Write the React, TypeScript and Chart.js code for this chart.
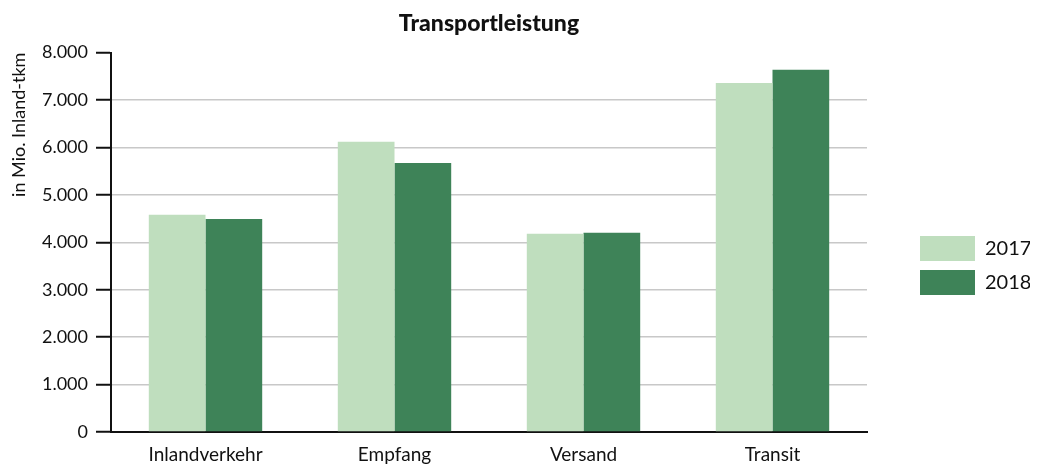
import React, { useEffect, useRef } from 'react';
import { Chart, registerables } from 'chart.js';

Chart.register(...registerables);

const categories = ['Inlandverkehr', 'Empfang', 'Versand', 'Transit'];
const seriesLabels = ['2017', '2018'];
const values2017 = [4580, 6120, 4180, 7360];
const values2018 = [4490, 5670, 4200, 7640];
const yTickLabels = ['0', '1.000', '2.000', '3.000', '4.000', '5.000', '6.000', '7.000', '8.000'];
const chartTitle = 'Transportleistung';
const yAxisTitle = 'in Mio. Inland-tkm';

const colorLight = '#bfdebe';
const colorDark = '#3e8358';
const FONT = 'Lato';

const legendShift = {
  id: 'legendShift',
  afterLayout(chart: any) {
    const l = chart.legend;
    if (l) {
      const dx = 912 - (l.left + 9);
      l.left += dx;
      l.right += dx;
    }
  },
};

export default function App() {
  const ref = useRef<HTMLCanvasElement | null>(null);

  useEffect(() => {
    document.documentElement.style.overflow = 'hidden';
    const canvas = ref.current;
    if (!canvas) return;
    const chart = new Chart(canvas, {
      type: 'bar',
      data: {
        labels: categories,
        datasets: [
          { label: seriesLabels[0], data: values2017, backgroundColor: colorLight, borderWidth: 0 },
          { label: seriesLabels[1], data: values2018, backgroundColor: colorDark, borderWidth: 0 },
        ],
      },
      options: {
        responsive: false,
        animation: false,
        datasets: { bar: { categoryPercentage: 0.6, barPercentage: 1.0 } },
        layout: { padding: { left: 0, right: 46, top: 0, bottom: 0 } },
        plugins: {
          tooltip: { enabled: false },
          title: {
            display: true,
            text: chartTitle,
            fullSize: false,
            color: '#111',
            font: { family: FONT, size: 23, weight: '900' },
            padding: { top: 2, bottom: 15 },
          },
          legend: {
            position: 'right',
            align: 'center',
            maxWidth: 125,
            labels: {
              boxWidth: 55,
              boxHeight: 25,
              padding: 9,
              color: '#111',
              font: { family: FONT, size: 20 },
            },
          },
        },
        scales: {
          x: {
            grid: { display: false, drawTicks: false },
            border: { display: true, color: '#111', width: 2 },
            ticks: { padding: 11, color: '#111', font: { family: FONT, size: 19 } },
            afterFit: (s: any) => { s.height = 91; },
          },
          y: {
            min: 0,
            max: 8000,
            ticks: {
              stepSize: 1000,
              padding: 8,
              color: '#111',
              font: { family: FONT, size: 18 },
              callback: (_v: any, i: number) => yTickLabels[i],
            },
            grid: {
              color: (ctx: any) => (ctx.tick && ctx.tick.value === 8000 ? 'rgba(0,0,0,0)' : '#c8c8c8'),
              lineWidth: 1.5,
              tickColor: '#111',
              tickLength: 15,
              tickWidth: 2,
            },
            border: { display: true, color: '#111', width: 2 },
            title: {
              display: true,
              text: yAxisTitle,
              align: 'end',
              color: '#111',
              font: { family: FONT, size: 18 },
              padding: 0,
            },
            afterFit: (s: any) => { s.width = 103; },
          },
        },
      },
      plugins: [legendShift],
    } as any);
    return () => chart.destroy();
  }, []);

  return (
    <div style={{ width: 1030, height: 515 }}>
      <canvas ref={ref} width={1030} height={515} style={{ display: 'block' }} />
    </div>
  );
}
